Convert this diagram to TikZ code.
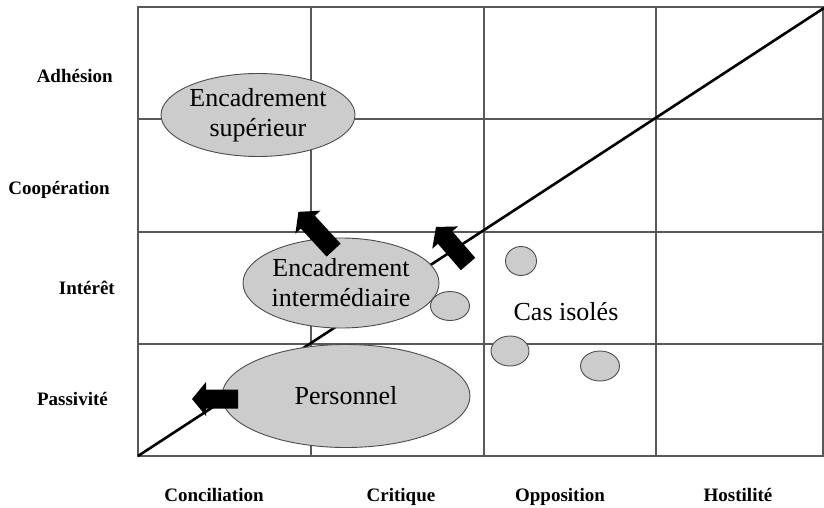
\documentclass[tikz,border=0pt]{standalone}
\usepackage{fontspec}
\setmainfont{Liberation Serif}
\usetikzlibrary{shapes.geometric}
\begin{document}
\begin{tikzpicture}[x=1pt,y=-1pt,
 gridline/.style={draw=black!65, line width=1.3pt},
 blob/.style={ellipse, draw=black!70, line width=0.9pt, fill=black!20, inner sep=0pt, align=center, font=\fontsize{26}{30}\selectfont},
 dot/.style={ellipse, draw=black!70, line width=0.9pt, fill=black!20, inner sep=0pt},
 axlabel/.style={font=\fontsize{19}{22}\selectfont\bfseries, inner sep=0pt},
 pics/blockarrow/.style={code={
   \fill[black] (-#1/2,-9.5) -- (#1/2-14,-9.5) -- (#1/2-14,-17) -- (#1/2,0)
     -- (#1/2-14,17) -- (#1/2-14,9.5) -- (-#1/2,9.5) -- cycle;}}
]
\useasboundingbox (0,0) rectangle (824,508);
% grid
\draw[gridline] (138,7) rectangle (823,456);
\draw[gridline] (311,7) -- (311,456);
\draw[gridline] (484,7) -- (484,456);
\draw[gridline] (656,7) -- (656,456);
\draw[gridline] (138,119) -- (823,119);
\draw[gridline] (138,232) -- (823,232);
\draw[gridline] (138,344) -- (823,344);
% diagonal
\coordinate (d0) at (138,456);
\coordinate (d1) at (824,8);
\draw[line width=2.6pt] (d0) -- (d1);
% ellipses
\node[blob, minimum width=180pt, minimum height=83pt] (sup) at (258,115) {Encadrement\\supérieur};
\node[blob, minimum width=182pt, minimum height=90pt] (inter) at (341,283) {Encadrement\\intermédiaire};
\node[blob, minimum width=248pt, minimum height=103pt] (pers) at (346,396) {Personnel};
\node[dot, minimum width=39pt, minimum height=29pt] (c0) at (450,306) {};
\node[dot, minimum width=31pt, minimum height=29pt] (c1) at (521,261) {};
\node[dot, minimum width=38pt, minimum height=30pt] (c2) at (510,351) {};
\node[dot, minimum width=39pt, minimum height=30pt] (c3) at (600,366) {};
\node[font=\fontsize{26}{30}\selectfont, inner sep=0pt] (cas) at (566,312) {Cas isolés};
% block arrows
\pic[rotate=132.6] at (316,231) {blockarrow=52};
\pic[rotate=130.9] at (452,245.5) {blockarrow=49};
\pic[rotate=180] at (215,399) {blockarrow=46};
% axis labels
\node[axlabel, anchor=base east] (adh) at (113,83) {Adhésion};
\node[axlabel, anchor=base east] (coop) at (110,194) {Coopération};
\node[axlabel, anchor=base east] (int) at (115,294) {Intérêt};
\node[axlabel, anchor=base east] (pass) at (108,405) {Passivité};
\node[axlabel, anchor=base] (conc) at (214,501) {Conciliation};
\node[axlabel, anchor=base] (crit) at (401,501) {Critique};
\node[axlabel, anchor=base] (opp) at (560,501) {Opposition};
\node[axlabel, anchor=base] (host) at (738,501) {Hostilité};
\end{tikzpicture}
\end{document}
